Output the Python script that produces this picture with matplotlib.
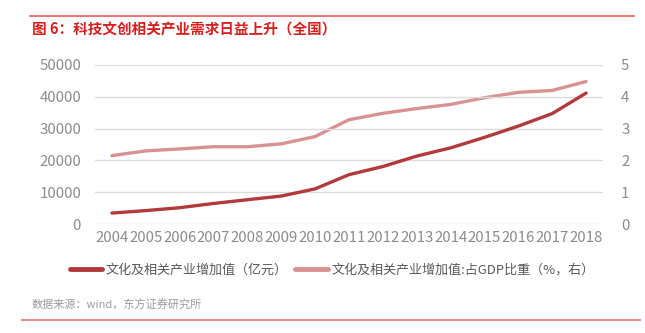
import matplotlib
matplotlib.use("Agg")
import matplotlib.pyplot as plt
from matplotlib.lines import Line2D

plt.rcParams['font.family'] = ['Noto Sans CJK SC', 'DejaVu Sans']

years = ["2004", "2005", "2006", "2007", "2008", "2009", "2010", "2011",
         "2012", "2013", "2014", "2015", "2016", "2017", "2018"]
added_value = [3440, 4216, 5123, 6455, 7630, 8786, 11052, 15516,
               18071, 21351, 23940, 27235, 30785, 34722, 41171]
gdp_share = [2.15, 2.30, 2.36, 2.43, 2.43, 2.52, 2.75, 3.28,
             3.48, 3.63, 3.76, 3.97, 4.14, 4.20, 4.48]

title = "图 6：科技文创相关产业需求日益上升（全国）"
label_left = "文化及相关产业增加值（亿元）"
label_right = "文化及相关产业增加值:占GDP比重（%，右）"
source = "数据来源：wind，东方证券研究所"

dark = "#B23A3A"
light = "#D99292"
tick_color = "#8C8C8C"
grid_color = "#DCDCDC"

W, H = 645, 333
fig = plt.figure(figsize=(W / 100, H / 100), dpi=100)

ax = fig.add_axes([95 / W, 1 - 224 / H, 508 / W, 159 / H])
ax2 = ax.twinx()

x = list(range(len(years)))
ax.plot(x, added_value, color=dark, lw=2.4, solid_capstyle="round", zorder=3)
ax2.plot(x, gdp_share, color=light, lw=2.4, solid_capstyle="round", zorder=3)

ax.set_xlim(-0.5, len(years) - 0.5)
ax.set_ylim(0, 50000)
ax.set_yticks(range(0, 50001, 10000))
ax2.set_ylim(0, 5)
ax2.set_yticks(range(0, 6))
ax.set_xticks(x)
ax.set_xticklabels(years)

ax.grid(axis="y", color=grid_color, lw=1)
ax.set_axisbelow(True)
for a in (ax, ax2):
    for s in a.spines.values():
        s.set_visible(False)
    a.tick_params(length=0, colors=tick_color, labelsize=10.8)
    for lbl in a.get_xticklabels() + a.get_yticklabels():
        lbl.set_fontweight("light")
ax.tick_params(axis="y", pad=10)
ax2.tick_params(axis="y", pad=13)
ax.tick_params(axis="x", pad=5)
ax.set_zorder(ax2.get_zorder() + 1)
ax.patch.set_visible(False)

handles = [Line2D([], [], color=dark, lw=3.5, solid_capstyle="round"),
           Line2D([], [], color=light, lw=3.5, solid_capstyle="round")]
leg = fig.legend(handles, [label_left, label_right], loc="center",
                 bbox_to_anchor=(332 / W, 1 - 270 / H), ncol=2, frameon=False,
                 fontsize=9.4, labelcolor="#595959", handlelength=2.5,
                 handletextpad=0.25, columnspacing=0.6)
for t in leg.get_texts():
    t.set_fontweight("light")

fig.text(32 / W, 1 - 29 / H, title, color="#D7201E", fontsize=10.5,
         fontweight="bold", va="center", ha="left")
fig.text(32 / W, 1 - 305 / H, source, color="#9A9A9A", fontsize=8,
         va="center", ha="left")

fig.add_artist(Line2D([30 / W, 634 / W], [1 - 16 / H, 1 - 16 / H],
                      color="#E25B5B", lw=1.2, transform=fig.transFigure))
fig.add_artist(Line2D([22 / W, 640 / W], [1 - 320 / H, 1 - 320 / H],
                      color="#EC8C8C", lw=1.5, transform=fig.transFigure))

fig.savefig("out.png", dpi=100)
